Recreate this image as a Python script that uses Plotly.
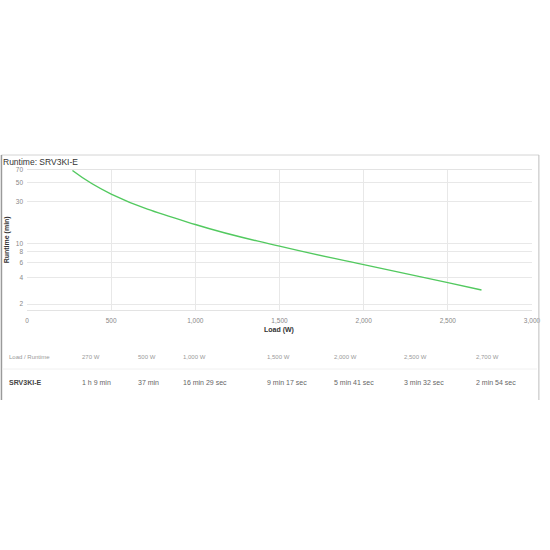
import plotly.graph_objects as go

# Runtime table for SRV3KI-E
model = "SRV3KI-E"
loads_w = [270, 500, 1000, 1500, 2000, 2500, 2700]
runtime_min = [69.0, 37.0, 16.48, 9.28, 5.68, 3.53, 2.9]
runtime_labels = ["1 h 9 min", "37 min", "16 min 29 sec", "9 min 17 sec",
                  "5 min 41 sec", "3 min 32 sec", "2 min 54 sec"]
x_ticks = [0, 500, 1000, 1500, 2000, 2500, 3000]
y_ticks = [2, 4, 6, 8, 10, 30, 50, 70]

W, H = 550, 550
L, R, T, B = 27, 9, 170, 240
pw, ph = W - L - R, H - T - B


def px(x):
    return (x - L) / pw


def py(y):
    return (H - B - y) / ph


FONT = "Liberation Sans, Arial, sans-serif"

fig = go.Figure()
fig.add_trace(go.Scatter(
    x=loads_w, y=runtime_min, mode="lines",
    line=dict(color="#52c95f", width=1.4, shape="spline", smoothing=1.3),
    hoverinfo="skip", showlegend=False,
))

fig.update_xaxes(
    range=[0, 3000], tickvals=x_ticks, tickformat=",",
    showgrid=True, gridcolor="#e8e8e8", gridwidth=1,
    zeroline=False, showline=True, linecolor="#e3e3e3", mirror=True,
    tickfont=dict(family=FONT, size=6.5, color="#888"),
    ticks="", ticklabelstandoff=4,
)
fig.update_yaxes(
    type="log", range=[0.232, 1.8451], tickvals=y_ticks,
    ticktext=[str(v) for v in y_ticks],
    showgrid=True, gridcolor="#e8e8e8", gridwidth=1,
    zeroline=False, showline=False,
    tickfont=dict(family=FONT, size=6.5, color="#888"),
    ticks="", ticklabelstandoff=3,
)

ann = []
ann.append(dict(text="Runtime: " + model, x=px(1), y=py(162), xanchor="left", yanchor="middle",
                font=dict(family=FONT, size=8.5, color="#333")))
ann.append(dict(text="<b>Runtime (min)</b>", x=px(7), y=py(240), textangle=-90,
                xanchor="center", yanchor="middle",
                font=dict(family=FONT, size=7, color="#333")))
ann.append(dict(text="<b>Load (W)</b>", x=px(283), y=py(330), xanchor="center", yanchor="middle",
                font=dict(family=FONT, size=7, color="#333")))

# table below the chart
col_x = [7, 81, 138, 184, 269, 337, 409, 482]
head = ["Load / Runtime"] + [f"{v:,} W" for v in loads_w]
row = ["<b>" + model + "</b>"] + runtime_labels
for i, cx in enumerate(col_x):
    ann.append(dict(text=head[i], x=px(cx), y=py(357), xanchor="left", yanchor="middle",
                    font=dict(family=FONT, size=6, color="#999")))
    ann.append(dict(text=row[i], x=px(cx), y=py(382), xanchor="left", yanchor="middle",
                    font=dict(family=FONT, size=7, color="#666" if i else "#444")))
for a in ann:
    a.update(xref="paper", yref="paper", showarrow=False)

shapes = [
    dict(type="line", x0=px(1), x1=px(548), y0=py(155), y1=py(155), line=dict(color="#d4d4d4", width=1)),
    dict(type="line", x0=px(1), x1=px(1), y0=py(155), y1=py(400), line=dict(color="#9a9a9a", width=1.5)),
    dict(type="line", x0=px(548), x1=px(548), y0=py(155), y1=py(400), line=dict(color="#bdbdbd", width=1)),
    dict(type="line", x0=px(2), x1=px(546), y0=py(369), y1=py(369), line=dict(color="#f0f0f0", width=1)),
]
for s in shapes:
    s.update(xref="paper", yref="paper")

fig.update_layout(
    width=W, height=H,
    margin=dict(l=L, r=R, t=T, b=B, pad=0),
    paper_bgcolor="white", plot_bgcolor="white",
    annotations=ann, shapes=shapes,
    showlegend=False,
)

# drop the browser's default body margin so the figure sits at the page corner
fig.write_html("out.html", config={"displayModeBar": False},
               post_script="document.body.style.margin='0';document.body.style.overflow='hidden';")
